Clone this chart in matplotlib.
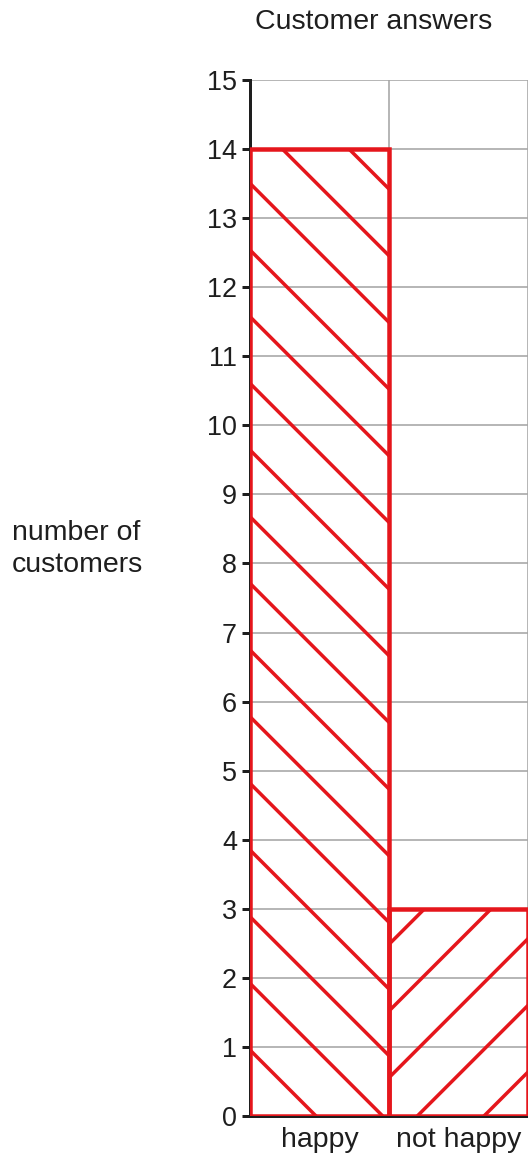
import matplotlib.pyplot as plt

# Chart data
categories = ["happy", "not happy"]
customers = [14, 3]
hatches = ["\\\\", "//"]
y_ticks = list(range(0, 16))

DPI = 400
PX = 72 / DPI  # one pixel in points
RED = "#e5161c"

plt.rcParams["font.family"] = ["Liberation Sans", "DejaVu Sans"]
plt.rcParams["hatch.linewidth"] = 3.5 * PX

fig = plt.figure(figsize=(528 / DPI, 1162 / DPI), dpi=DPI)
# the plot runs on past the right edge of the picture
ax = fig.add_axes([250 / 528, 46 / 1162, 417 / 528, 1036 / 1162])

bars = ax.bar(range(len(categories)), customers, width=1.0, fill=False,
              edgecolor=RED, linewidth=4.5 * PX, zorder=3)
for bar, h in zip(bars, hatches):
    bar.set_hatch(h)

ax.set_xlim(-0.5, 2.5)
ax.set_ylim(0, 15)
ax.set_yticks(y_ticks)
ax.set_xticks(range(len(categories)))
ax.set_xticklabels(categories)
ax.set_xticks([0.5, 1.5], minor=True)

# Grid
ax.yaxis.grid(True, color="#a6a6a6", linewidth=1.6 * PX, zorder=0)
ax.xaxis.grid(True, which="minor", color="#a6a6a6", linewidth=1.6 * PX, zorder=0)
ax.set_axisbelow(True)

for side in ["top", "right"]:
    ax.spines[side].set_visible(False)
for side in ["left", "bottom"]:
    ax.spines[side].set_linewidth(3 * PX)
    ax.spines[side].set_color("#1e1e1e")

ax.tick_params(axis="y", length=8 * PX, width=3 * PX, pad=5 * PX,
               labelsize=27 * PX, colors="#1e1e1e")
ax.tick_params(axis="x", which="both", length=0, pad=11 * PX,
               labelsize=28.5 * PX, colors="#1e1e1e")

# Labels
fig.text(374 / 528, 1 - 22 / 1162, "Customer answers", ha="center", va="center",
         fontsize=28.5 * PX, color="#1e1e1e")
fig.text(12 / 528, 1 - 549 / 1162, "number of\ncustomers", ha="left", va="center",
         fontsize=28.5 * PX, color="#1e1e1e", linespacing=1.3)

fig.savefig("out.png", dpi=DPI)
